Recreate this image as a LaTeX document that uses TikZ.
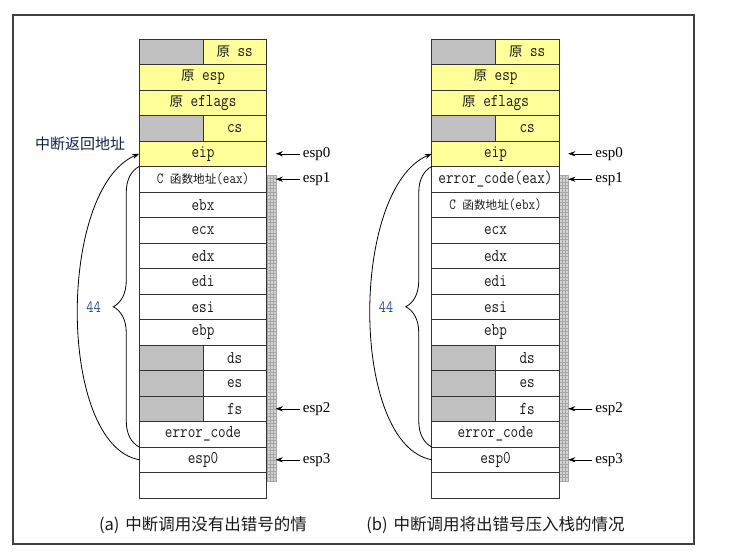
\documentclass[tikz,border=0pt]{standalone}
\usepackage{fontspec}
\setmainfont{Liberation Serif}
\setmonofont{Latin Modern Mono}[FakeStretch=0.82]
\newfontfamily\cjk{Noto Sans CJK SC}
\newfontfamily\cjkcell{Noto Sans CJK SC}[Scale=0.75]
\usetikzlibrary{positioning, arrows.meta, decorations.pathreplacing}

\definecolor{hilite}{RGB}{255,255,153}
\definecolor{padgray}{RGB}{192,192,192}
\definecolor{ink}{RGB}{25,25,25}
\definecolor{navy}{RGB}{20,30,70}
\definecolor{countblue}{RGB}{35,75,150}

\newcommand\zh[1]{{\cjkcell #1}}
\newcommand\cfunc[1]{{\fontsize{15.5}{17}\selectfont C \zh{函数地址}(#1)}}

\begin{document}
\begin{tikzpicture}[x=1pt, y=-1pt, >={Stealth[length=7pt, width=5pt]},
  cell/.style={draw=black!80, line width=0.8pt, minimum width=127.5pt, minimum height=25.5pt,
    inner sep=0pt, outer sep=0pt, text=ink, font=\fontsize{18}{20}\selectfont\ttfamily},
  saved/.style={cell, fill=hilite},
  pad/.style={draw=black!80, line width=0.8pt, fill=padgray, minimum width=63.75pt,
    minimum height=25.5pt, inner sep=0pt, outer sep=0pt, anchor=west},
  half/.style={minimum width=63.75pt, inner sep=0pt, anchor=east, text=ink,
    font=\fontsize{18}{20}\selectfont\ttfamily},
  esplabel/.style={inner sep=3pt, font=\fontsize{15}{17}\selectfont},
  count/.style={inner sep=0pt, text=countblue, font=\fontsize{17}{19}\selectfont\ttfamily},
  caption/.style={inner sep=0pt, text=ink, font=\cjk\fontsize{16.5}{18}\selectfont},
  strip/.style={fill=gray!35},
  stripline/.style={draw=gray!70, line width=0.4pt}]
  \useasboundingbox (0,0) rectangle (733,552);
  \draw[black!75, line width=1.5pt] (13,15) rectangle (694,544);

  \foreach \p/\cx/\five/\six in {a/203/\cfunc{eax}/ebx, b/495.5/error\_code(eax)/\cfunc{ebx}} {
    % hatched strip beside the stack
    \fill[strip] ({\cx+64},175) rectangle ({\cx+73},482);
    \foreach \sy in {175,178.4,...,482}
      \draw[stripline] ({\cx+64},\sy) -- ({\cx+73},\sy);
    \foreach \sx in {0,3,6,9}
      \draw[stripline] ({\cx+64+\sx},175) -- ({\cx+64+\sx},482);

    % pushed by the cpu
    \node[saved] (\p-ss) at (\cx,51.75) {};
    \node[pad] (\p-ss-pad) at (\p-ss.west) {};
    \node[half] (\p-ss-txt) at (\p-ss.east) {\zh{原} ss};
    \node[saved, below=0pt of \p-ss] (\p-esp) {\zh{原} esp};
    \node[saved, below=0pt of \p-esp] (\p-eflags) {\zh{原} eflags};
    \node[saved, below=0pt of \p-eflags] (\p-cs) {};
    \node[pad] (\p-cs-pad) at (\p-cs.west) {};
    \node[half] (\p-cs-txt) at (\p-cs.east) {cs};
    \node[saved, below=0pt of \p-cs] (\p-eip) {eip};

    % pushed by the handler
    \node[cell, below=0pt of \p-eip] (\p-five) {\five};
    \node[cell, below=0pt of \p-five] (\p-six) {\six};
    \foreach \r [remember=\r as \q (initially six)] in {ecx, edx, edi, esi, ebp}
      \node[cell, below=0pt of \p-\q] (\p-\r) {\r};
    \foreach \r [remember=\r as \q (initially ebp)] in {ds, es, fs} {
      \node[cell, below=0pt of \p-\q] (\p-\r) {};
      \node[pad] (\p-\r-pad) at (\p-\r.west) {};
      \node[half] (\p-\r-txt) at (\p-\r.east) {\r};
    }
    \node[cell, below=0pt of \p-fs] (\p-err) {error\_code};
    \node[cell, below=0pt of \p-err] (\p-esp0) {esp0};
    \node[cell, below=0pt of \p-esp0] (\p-end) {};

    % stack pointers
    \foreach \row/\k in {eip/0, five/1, fs/2, esp0/3} {
      \node[esplabel, right=33pt of \p-\row] (\p-at\k) {esp\k};
      \draw[->] (\p-at\k) -- ([xshift=9pt]\p-\row.east);
    }

    \draw[->, line width=0.8pt] (\p-esp0.west) .. controls +(-82,-15) and +(-82,35) .. (\p-eip.west);
    \draw[line width=0.8pt, decorate, decoration={brace, amplitude=26pt}]
      (\p-err.south west) -- node[count, left=38pt] (\p-count) {44} (\p-five.north west);
  }

  \node[inner sep=0pt, text=navy, font=\cjk\fontsize{15}{17}\selectfont, anchor=east]
    (ret) at ([xshift=-14pt, yshift=10pt]a-eip.west) {中断返回地址};
  \node[caption, below=18pt of a-end] (capa) {(a)\hspace{6pt}中断调用没有出错号的情};
  \node[caption, below=18pt of b-end] (capb) {(b)\hspace{6pt}中断调用将出错号压入栈的情况};
\end{tikzpicture}
\end{document}
